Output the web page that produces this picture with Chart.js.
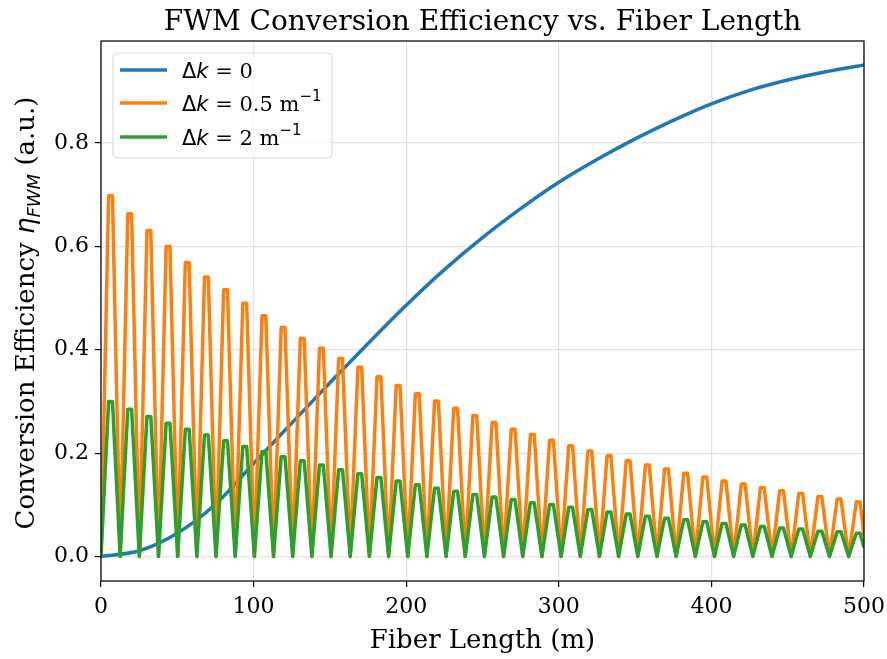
<!DOCTYPE html>
<html>
<head>
<meta charset="utf-8">
<script src="https://cdn.jsdelivr.net/npm/chart.js@4.4.1/dist/chart.umd.min.js"></script>
<style>
  html, body { margin: 0; padding: 0; background: #fff; }
</style>
</head>
<body>
<canvas id="fwmChart" width="887" height="659"></canvas>
<script>
const lengthTicks = [0, 100, 200, 300, 400, 500];
const efficiencyTicks = [0.0, 0.2, 0.4, 0.6, 0.8];

// Δk = 0, read every 25 m
const matchedLengths = [0, 25, 50, 75, 100, 125, 150, 175, 200, 225, 250,
  275, 300, 325, 350, 375, 400, 425, 450, 475, 500];
const matchedEfficiency = [0, 0.011, 0.045, 0.101, 0.18, 0.258, 0.336, 0.412, 0.486, 0.555, 0.617,
  0.673, 0.724, 0.768, 0.808, 0.844, 0.876, 0.902, 0.922, 0.938, 0.951];

// oscillating curves: each cycle starts at 0, has a flat top, falls back to 0
const cycleLength = 12.563;
const topStart = 5.0;
const topEnd = 7.5;

// Δk = 0.5 m^-1, peak height of each cycle
const halfPeaks = [0.698, 0.663, 0.631, 0.600, 0.569, 0.541, 0.516, 0.490, 0.466, 0.443,
  0.422, 0.403, 0.383, 0.366, 0.348, 0.331, 0.315, 0.301, 0.287, 0.273,
  0.259, 0.246, 0.236, 0.225, 0.214, 0.204, 0.195, 0.185, 0.177, 0.169,
  0.161, 0.154, 0.146, 0.140, 0.133, 0.127, 0.122, 0.116, 0.111, 0.106];
const halfEnd = 0.04;

// Δk = 2 m^-1, peak height of each cycle
const twoPeaks = [0.300, 0.285, 0.271, 0.258, 0.246, 0.235, 0.224, 0.213, 0.203, 0.193,
  0.185, 0.177, 0.168, 0.160, 0.153, 0.146, 0.139, 0.132, 0.126, 0.120,
  0.115, 0.110, 0.104, 0.100, 0.095, 0.091, 0.086, 0.082, 0.078, 0.074,
  0.071, 0.067, 0.064, 0.061, 0.058, 0.055, 0.053, 0.049, 0.048, 0.045];
const twoEnd = 0.017;

function cyclePoints(peaks, endValue) {
  const pts = [];
  peaks.forEach((p, k) => {
    const start = k * cycleLength;
    pts.push({ x: start, y: 0 });
    pts.push({ x: start + topStart, y: p });
    pts.push({ x: start + topEnd, y: p });
  });
  pts.push({ x: 500, y: endValue });
  return pts;
}

const serif = '"DejaVu Serif", serif';
const sans = '"DejaVu Sans", sans-serif';

function drawRuns(ctx, runs, x, y) {
  runs.forEach(r => {
    ctx.font = r.font;
    ctx.fillText(r.text, x, y + (r.dy || 0));
    x += ctx.measureText(r.text).width;
  });
}

function runsWidth(ctx, runs) {
  let w = 0;
  runs.forEach(r => { ctx.font = r.font; w += ctx.measureText(r.text).width; });
  return w;
}

const decorations = {
  id: 'decorations',
  afterDraw(chart) {
    const ctx = chart.ctx;
    const a = chart.chartArea;
    ctx.save();

    ctx.strokeStyle = '#000';
    ctx.lineWidth = 1.25;
    ctx.strokeRect(a.left, a.top, a.right - a.left, a.bottom - a.top);

    ctx.fillStyle = '#000';
    ctx.textAlign = 'center';
    ctx.textBaseline = 'alphabetic';
    ctx.font = '28px ' + serif;
    ctx.fillText('FWM Conversion Efficiency vs. Fiber Length', (a.left + a.right) / 2, 30);
    ctx.font = '26px ' + serif;
    ctx.fillText('Fiber Length (m)', (a.left + a.right) / 2, 648);

    // y axis label with math part
    const yRuns = [
      { text: 'Conversion Efficiency ', font: '26px ' + serif },
      { text: 'η', font: 'oblique 26px ' + sans },
      { text: 'FWM', font: 'oblique 18px ' + sans, dy: 6 },
      { text: ' (a.u.)', font: '26px ' + serif }
    ];
    ctx.textAlign = 'left';
    ctx.translate(34, (a.top + a.bottom) / 2 + 2);
    ctx.rotate(-Math.PI / 2);
    drawRuns(ctx, yRuns, -runsWidth(ctx, yRuns) / 2, 0);
    ctx.setTransform(1, 0, 0, 1, 0, 0);

    // legend
    const bx = 113, by = 53, bw = 219, bh = 105;
    ctx.beginPath();
    ctx.roundRect(bx, by, bw, bh, 4);
    ctx.fillStyle = 'rgba(255,255,255,0.8)';
    ctx.fill();
    ctx.strokeStyle = 'rgba(204,204,204,0.8)';
    ctx.lineWidth = 1;
    ctx.stroke();

    const rows = [
      { y: 70, runs: [{ text: '= 0', font: '21px ' + serif }] },
      { y: 103, runs: [{ text: '= 0.5 m', font: '21px ' + serif }, { text: '−1', font: '15px ' + sans, dy: -10 }] },
      { y: 137, runs: [{ text: '= 2 m', font: '21px ' + serif }, { text: '−1', font: '15px ' + sans, dy: -10 }] }
    ];
    chart.data.datasets.forEach((ds, i) => {
      const r = rows[i];
      ctx.strokeStyle = ds.borderColor;
      ctx.lineWidth = 3.5;
      ctx.beginPath();
      ctx.moveTo(120, r.y);
      ctx.lineTo(167, r.y);
      ctx.stroke();
      ctx.fillStyle = '#000';
      const runs = [
        { text: 'Δ', font: '21px ' + sans },
        { text: 'k', font: 'oblique 21px ' + sans },
        { text: ' ', font: '21px ' + serif }
      ].concat(r.runs);
      drawRuns(ctx, runs, 182, r.y + 7.5);
    });

    ctx.restore();
  }
};

const tickFont = { family: 'DejaVu Serif', size: 22 };
const gridColor = 'rgba(176,176,176,0.35)';

new Chart(document.getElementById('fwmChart'), {
  type: 'line',
  data: {
    datasets: [
      {
        label: 'Δk = 0',
        data: matchedLengths.map((x, i) => ({ x: x, y: matchedEfficiency[i] })),
        borderColor: '#1f77b4',
        borderWidth: 3.5,
        cubicInterpolationMode: 'monotone',
        order: 2
      },
      {
        label: 'Δk = 0.5 m⁻¹',
        data: cyclePoints(halfPeaks, halfEnd),
        borderColor: '#ff7f0e',
        borderWidth: 3.5,
        borderJoinStyle: 'round',
        order: 1
      },
      {
        label: 'Δk = 2 m⁻¹',
        data: cyclePoints(twoPeaks, twoEnd),
        borderColor: '#2ca02c',
        borderWidth: 3.5,
        borderJoinStyle: 'round',
        order: 0
      }
    ]
  },
  options: {
    responsive: false,
    animation: false,
    events: [],
    layout: { padding: { left: 0, right: 23, top: 41, bottom: 0 } },
    elements: { point: { radius: 0 } },
    plugins: {
      legend: { display: false },
      tooltip: { enabled: false }
    },
    scales: {
      x: {
        type: 'linear',
        min: 0,
        max: 500,
        afterBuildTicks(s) { s.ticks = lengthTicks.map(v => ({ value: v })); },
        afterFit(s) {
          s.height = 78;
          s.paddingLeft = 0;
          s.paddingRight = 0;
        },
        border: { display: false },
        grid: { color: gridColor, tickColor: '#000', tickLength: 6, lineWidth: 1.2 },
        ticks: { color: '#000', font: tickFont, padding: 7, maxRotation: 0 }
      },
      y: {
        type: 'linear',
        min: -0.0475,
        max: 0.9975,
        afterBuildTicks(s) { s.ticks = efficiencyTicks.map(v => ({ value: v })); },
        afterFit(s) {
          s.width = 101;
          s.paddingTop = 0;
          s.paddingBottom = 0;
        },
        border: { display: false },
        grid: { color: gridColor, tickColor: '#000', tickLength: 6, lineWidth: 1.2 },
        ticks: { color: '#000', font: tickFont, padding: 6, callback: v => v.toFixed(1) }
      }
    }
  },
  plugins: [decorations]
});
</script>
</body>
</html>
